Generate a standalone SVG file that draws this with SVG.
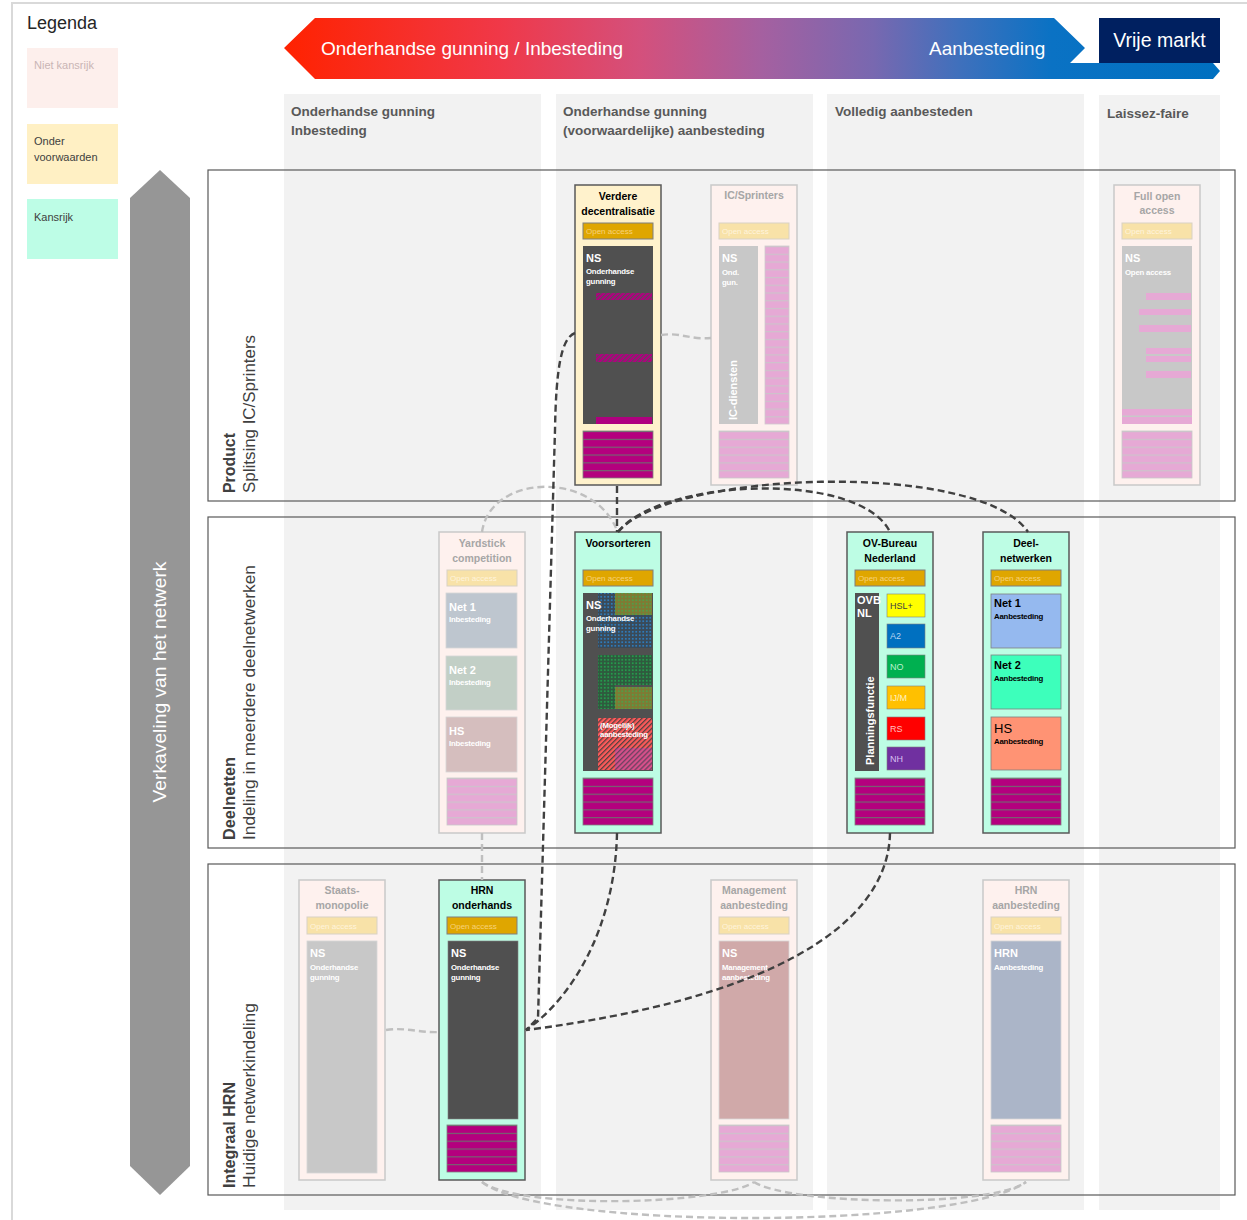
<svg xmlns="http://www.w3.org/2000/svg" width="1247" height="1220" viewBox="0 0 1247 1220">
<defs>
<linearGradient id="bannerGrad" gradientUnits="userSpaceOnUse" x1="284" y1="0" x2="1220" y2="0">
<stop offset="0" stop-color="#ff2200"/>
<stop offset="0.23" stop-color="#f03848"/>
<stop offset="0.38" stop-color="#d4507c"/>
<stop offset="0.51" stop-color="#a560a0"/>
<stop offset="0.63" stop-color="#7868b0"/>
<stop offset="0.72" stop-color="#4070bc"/>
<stop offset="0.82" stop-color="#0a72c4"/>
<stop offset="1" stop-color="#0070c0"/>
</linearGradient>
<pattern id="stM" patternUnits="objectBoundingBox" width="1" height="0.16667">
<rect width="100" height="20" fill="#b4007e"/>
<rect width="100" height="1.1" fill="#6f6f6f"/>
</pattern>
<pattern id="stP" patternUnits="objectBoundingBox" width="1" height="0.16667">
<rect width="100" height="20" fill="#e6a9d5"/>
<rect width="100" height="1.2" fill="#cdc3cb"/>
</pattern>
<pattern id="stP23" patternUnits="objectBoundingBox" width="1" height="0.04348">
<rect width="100" height="20" fill="#e6a9d5"/>
<rect width="100" height="1.2" fill="#cdc3cb"/>
</pattern>
<pattern id="hatchM" patternUnits="userSpaceOnUse" width="3.5" height="3.5" patternTransform="rotate(45)">
<rect width="3.5" height="3.5" fill="#b0007f"/>
<rect width="1.1" height="3.5" fill="#5a4a58"/>
</pattern>
<pattern id="hatchR" patternUnits="userSpaceOnUse" width="3.5" height="3.5" patternTransform="rotate(45)">
<rect width="3.5" height="3.5" fill="#ff5a5a"/>
<rect width="1.3" height="3.5" fill="#5a4040"/>
</pattern>
<pattern id="hatchP" patternUnits="userSpaceOnUse" width="3.5" height="3.5" patternTransform="rotate(45)">
<rect width="3.5" height="3.5" fill="#d8508a"/>
<rect width="1.3" height="3.5" fill="#6a4060"/>
</pattern>
<pattern id="dotB" patternUnits="userSpaceOnUse" width="3.5" height="3.5">
<rect width="3.5" height="3.5" fill="#3a4a58"/>
<circle cx="1.75" cy="1.75" r="0.9" fill="#2a8ad8"/>
</pattern>
<pattern id="dotG" patternUnits="userSpaceOnUse" width="3.5" height="3.5">
<rect width="3.5" height="3.5" fill="#2f5a3e"/>
<circle cx="1.75" cy="1.75" r="0.9" fill="#20b050"/>
</pattern>
<pattern id="dotO" patternUnits="userSpaceOnUse" width="3.5" height="3.5">
<rect width="3.5" height="3.5" fill="#7f7a34"/>
<circle cx="1.75" cy="1.75" r="0.8" fill="#3cae50"/>
</pattern>
<style>
.f{font-family:"Liberation Sans",Arial,sans-serif}
.col{fill:#f2f2f2}
.frame{fill:none;stroke:#595959;stroke-width:1.2}
.nk{fill:#fef1ee;stroke:#c9c9c9;stroke-width:1.5}
.ov{fill:#fff2cc;stroke:#595959;stroke-width:1.5}
.kr{fill:#bdfde4;stroke:#595959;stroke-width:1.5}
.oa{fill:#dfa600;stroke:#7f7f7f;stroke-width:1}
.oal{fill:#f8e2a8;stroke:#d8d2c4;stroke-width:1}
.bm{fill:url(#stM);stroke:#7f7f7f;stroke-width:0.8}
.bp{fill:url(#stP);stroke:#c9c9c9;stroke-width:0.8}
.ttl{font-family:"Liberation Sans",Arial,sans-serif;font-size:10.5px;font-weight:bold;text-anchor:middle;fill:#000}
.ttlg{font-family:"Liberation Sans",Arial,sans-serif;font-size:10.5px;font-weight:bold;text-anchor:middle;fill:#a6a6a6}
.oat{font-family:"Liberation Sans",Arial,sans-serif;font-size:8px;fill:#f7d27a}
.oatl{font-family:"Liberation Sans",Arial,sans-serif;font-size:8px;fill:#fff4dc}
.ns{font-family:"Liberation Sans",Arial,sans-serif;font-size:11px;font-weight:bold;fill:#fff}
.sub{font-family:"Liberation Sans",Arial,sans-serif;font-size:7.8px;font-weight:bold;fill:#fff;letter-spacing:-0.2px}
.hdr{font-family:"Liberation Sans",Arial,sans-serif;font-size:13.5px;font-weight:bold;fill:#595959}
.rowb{font-family:"Liberation Sans",Arial,sans-serif;font-size:16px;font-weight:bold;fill:#404040}
.rowr{font-family:"Liberation Sans",Arial,sans-serif;font-size:16px;fill:#404040}
.lg{font-family:"Liberation Sans",Arial,sans-serif;font-size:11px;fill:#404040}
.cl{font-family:"Liberation Sans",Arial,sans-serif;font-size:9px}
.dk{fill:none;stroke:#404040;stroke-width:2.4;stroke-dasharray:7 4}
.lt{fill:none;stroke:#bfbfbf;stroke-width:2.4;stroke-dasharray:7 4}
</style>
</defs>
<rect width="1247" height="1220" fill="#fff"/>
<path d="M12,1220 L12,3 L1247,3" fill="none" stroke="#d9d9d9" stroke-width="2"/>

<g id="legend">
<text class="f" x="27" y="29" font-size="18" fill="#262626">Legenda</text>
<rect x="27" y="48" width="91" height="60" fill="#fdefec"/>
<text class="lg" x="34" y="69" style="fill:#c9b5b5">Niet kansrijk</text>
<rect x="27" y="124" width="91" height="60" fill="#fff0c4"/>
<text class="lg" x="34" y="145">Onder</text>
<text class="lg" x="34" y="161">voorwaarden</text>
<rect x="27" y="199" width="91" height="60" fill="#bdfde6"/>
<text class="lg" x="34" y="221">Kansrijk</text>
</g>

<g id="banner">
<polygon points="284,48 315,18 1054,18 1085,48 1070,63 1213,63 1220,71 1213,79 315,79" fill="url(#bannerGrad)"/>
<text class="f" x="321" y="55" font-size="19" fill="#fff">Onderhandse gunning / Inbesteding</text>
<text class="f" x="929" y="55" font-size="19" fill="#fff">Aanbesteding</text>
<rect x="1099" y="18" width="121" height="45" fill="#002060"/>
<text class="f" x="1159.5" y="47" font-size="19.5" fill="#fff" text-anchor="middle">Vrije markt</text>
</g>

<g id="columns">
<rect class="col" x="284" y="94" width="257" height="1116"/>
<rect class="col" x="556" y="94" width="257" height="1116"/>
<rect class="col" x="827" y="94" width="257" height="1116"/>
<rect class="col" x="1099" y="95" width="121" height="1115"/>
<text class="hdr" x="291" y="116">Onderhandse gunning</text>
<text class="hdr" x="291" y="135">Inbesteding</text>
<text class="hdr" x="563" y="116">Onderhandse gunning</text>
<text class="hdr" x="563" y="135">(voorwaardelijke) aanbesteding</text>
<text class="hdr" x="835" y="116">Volledig aanbesteden</text>
<text class="hdr" x="1107" y="118">Laissez-faire</text>
</g>

<g id="axis">
<polygon points="160,170 190,198 190,1166 160,1195 130,1166 130,198" fill="#969696"/>
<text class="f" x="166" y="682" font-size="18" fill="#fff" text-anchor="middle" textLength="241" lengthAdjust="spacingAndGlyphs" transform="rotate(-90 166 682)">Verkaveling van het netwerk</text>
</g>

<g id="rows">
<rect class="frame" x="208" y="170" width="1027" height="331"/>
<rect class="frame" x="208" y="517" width="1027" height="331"/>
<rect class="frame" x="208" y="864" width="1027" height="331"/>
<text class="rowb" x="235" y="493" textLength="60" lengthAdjust="spacingAndGlyphs" transform="rotate(-90 235 493)">Product</text>
<text class="rowr" x="255" y="493" textLength="158" lengthAdjust="spacingAndGlyphs" transform="rotate(-90 255 493)">Splitsing IC/Sprinters</text>
<text class="rowb" x="235" y="840" textLength="83" lengthAdjust="spacingAndGlyphs" transform="rotate(-90 235 840)">Deelnetten</text>
<text class="rowr" x="255" y="840" textLength="275" lengthAdjust="spacingAndGlyphs" transform="rotate(-90 255 840)">Indeling in meerdere deelnetwerken</text>
<text class="rowb" x="235" y="1188" textLength="106" lengthAdjust="spacingAndGlyphs" transform="rotate(-90 235 1188)">Integraal HRN</text>
<text class="rowr" x="255" y="1188" textLength="185" lengthAdjust="spacingAndGlyphs" transform="rotate(-90 255 1188)">Huidige netwerkindeling</text>
</g>

<g id="node-verdere-decentralisatie" transform="translate(575,185)">
<rect class="ov" width="86" height="300"/>
<text class="ttl" x="43" y="15">Verdere</text>
<text class="ttl" x="43" y="30">decentralisatie</text>
<rect class="oa" x="8" y="38" width="70" height="16"/>
<text class="oat" x="11" y="49">Open access</text>
<rect x="8" y="61" width="70" height="178" fill="#505050"/>
<text class="ns" x="11" y="77">NS</text>
<text class="sub" x="11" y="89">Onderhandse</text>
<text class="sub" x="11" y="99">gunning</text>
<rect x="21" y="108" width="56" height="7" fill="url(#hatchM)"/>
<rect x="21" y="169" width="56" height="8" fill="url(#hatchM)"/>
<rect x="21" y="232" width="56" height="7" fill="#b0007f"/>
<rect class="bm" x="8" y="246" width="70" height="47"/>
</g>

<g id="node-ic-sprinters" transform="translate(711,185)">
<rect class="nk" width="86" height="300"/>
<text class="ttlg" x="43" y="14">IC/Sprinters</text>
<rect class="oal" x="8" y="38" width="70" height="16"/>
<text class="oatl" x="11" y="49">Open access</text>
<rect x="8" y="61" width="39" height="178" fill="#c8c8c8"/>
<text class="ns" x="11" y="77">NS</text>
<text class="sub" x="11" y="90">Ond.</text>
<text class="sub" x="11" y="100">gun.</text>
<text class="ns" x="26" y="235" transform="rotate(-90 26 235)">IC-diensten</text>
<rect x="54" y="61" width="24" height="178" fill="url(#stP23)" stroke="#d0c8ce" stroke-width="0.8"/>
<rect class="bp" x="8" y="246" width="70" height="47"/>
</g>

<g id="node-full-open-access" transform="translate(1114,185)">
<rect class="nk" width="86" height="300"/>
<text class="ttlg" x="43" y="15">Full open</text>
<text class="ttlg" x="43" y="29">access</text>
<rect class="oal" x="8" y="38" width="70" height="16"/>
<text class="oatl" x="11" y="49">Open access</text>
<rect x="8" y="61" width="70" height="178" fill="#c8c8c8"/>
<text class="ns" x="11" y="77">NS</text>
<text class="sub" x="11" y="90">Open access</text>
<rect x="32" y="108" width="45" height="7" fill="#e6a9d5"/>
<rect x="25" y="124" width="52" height="6" fill="#e6a9d5"/>
<rect x="25" y="140" width="52" height="7" fill="#e6a9d5"/>
<rect x="32" y="163" width="45" height="6" fill="#e6a9d5"/>
<rect x="32" y="171" width="45" height="6" fill="#e6a9d5"/>
<rect x="32" y="186" width="45" height="7" fill="#e6a9d5"/>
<rect x="8" y="224" width="70" height="6.5" fill="#e6a9d5"/>
<rect x="8" y="232" width="70" height="7" fill="#e6a9d5"/>
<rect class="bp" x="8" y="246" width="70" height="47"/>
</g>

<g id="node-yardstick-competition" transform="translate(439,532)">
<rect class="nk" width="86" height="301"/>
<text class="ttlg" x="43" y="15">Yardstick</text>
<text class="ttlg" x="43" y="30">competition</text>
<rect class="oal" x="8" y="38" width="70" height="16"/>
<text class="oatl" x="11" y="49">Open access</text>
<rect x="7" y="61" width="71" height="55" fill="#bec6cf" stroke="#d6d6d6" stroke-width="0.8"/>
<text class="ns" x="10" y="79" font-size="12">Net 1</text>
<text class="sub" x="10" y="90">Inbesteding</text>
<rect x="7" y="124" width="71" height="54" fill="#c2cfc6" stroke="#d6d6d6" stroke-width="0.8"/>
<text class="ns" x="10" y="142" font-size="12">Net 2</text>
<text class="sub" x="10" y="153">Inbesteding</text>
<rect x="7" y="185" width="71" height="55" fill="#d5bebe" stroke="#d6d6d6" stroke-width="0.8"/>
<text class="ns" x="10" y="203" font-size="12">HS</text>
<text class="sub" x="10" y="214">Inbesteding</text>
<rect class="bp" x="8" y="246" width="70" height="47"/>
</g>

<g id="node-voorsorteren" transform="translate(575,532)">
<rect class="kr" width="86" height="301"/>
<text class="ttl" x="43" y="15">Voorsorteren</text>
<rect class="oa" x="8" y="38" width="70" height="16"/>
<text class="oat" x="11" y="49">Open access</text>
<rect x="8" y="61" width="70" height="178" fill="#505050"/>
<rect x="23" y="61" width="54" height="55" fill="url(#dotB)"/>
<rect x="40" y="61" width="37" height="22" fill="url(#dotO)"/>
<rect x="23" y="123" width="54" height="30" fill="url(#dotG)"/>
<rect x="23" y="153" width="17" height="24" fill="url(#dotG)"/>
<rect x="40" y="155" width="37" height="22" fill="url(#dotO)"/>
<rect x="23" y="186" width="54" height="52" fill="url(#hatchR)"/>
<rect x="40" y="216" width="37" height="22" fill="url(#hatchP)"/>
<text class="ns" x="11" y="77">NS</text>
<text class="sub" x="11" y="89">Onderhandse</text>
<text class="sub" x="11" y="99">gunning</text>
<text class="sub" x="25" y="196" font-size="7">(Mogelijk)</text>
<text class="sub" x="25" y="205" font-size="7">aanbesteding</text>
<rect class="bm" x="8" y="246" width="70" height="47"/>
</g>

<g id="node-ov-bureau-nederland" transform="translate(847,532)">
<rect class="kr" width="86" height="301"/>
<text class="ttl" x="43" y="15">OV-Bureau</text>
<text class="ttl" x="43" y="30">Nederland</text>
<rect class="oa" x="8" y="38" width="70" height="16"/>
<text class="oat" x="11" y="49">Open access</text>
<rect x="8" y="61" width="24" height="178" fill="#505050"/>
<text class="ns" x="10" y="72" font-size="8.5">OVB</text>
<text class="ns" x="10" y="85" font-size="8.5">NL</text>
<text class="ns" x="27" y="233" transform="rotate(-90 27 233)">Planningsfunctie</text>
<rect x="40" y="62" width="38" height="23" fill="#ffff00" stroke="#7f7f7f" stroke-width="0.6"/>
<text class="cl" x="43" y="77" fill="#404040">HSL+</text>
<rect x="40" y="92" width="38" height="24" fill="#0070c0" stroke="#7f7f7f" stroke-width="0.6"/>
<text class="cl" x="43" y="107" fill="#b8d4f0">A2</text>
<rect x="40" y="123" width="38" height="23" fill="#00b050" stroke="#7f7f7f" stroke-width="0.6"/>
<text class="cl" x="43" y="138" fill="#b8f0cc">NO</text>
<rect x="40" y="154" width="38" height="23" fill="#ffc000" stroke="#7f7f7f" stroke-width="0.6"/>
<text class="cl" x="43" y="169" fill="#fff0c0">IJ/M</text>
<rect x="40" y="185" width="38" height="23" fill="#ff0000" stroke="#7f7f7f" stroke-width="0.6"/>
<text class="cl" x="43" y="200" fill="#ffc0c0">RS</text>
<rect x="40" y="215" width="38" height="23" fill="#7030a0" stroke="#7f7f7f" stroke-width="0.6"/>
<text class="cl" x="43" y="230" fill="#d8c0f0">NH</text>
<rect class="bm" x="8" y="246" width="70" height="47"/>
</g>

<g id="node-deel-netwerken" transform="translate(983,532)">
<rect class="kr" width="86" height="301"/>
<text class="ttl" x="43" y="15">Deel-</text>
<text class="ttl" x="43" y="30">netwerken</text>
<rect class="oa" x="8" y="38" width="70" height="16"/>
<text class="oat" x="11" y="49">Open access</text>
<rect x="8" y="62" width="70" height="54" fill="#95b9ef" stroke="#7f7f7f" stroke-width="0.8"/>
<text class="ns" x="11" y="75" style="fill:#000">Net 1</text>
<text class="sub" x="11" y="87" style="fill:#000">Aanbesteding</text>
<rect x="8" y="123" width="70" height="54" fill="#3dffbb" stroke="#7f7f7f" stroke-width="0.8"/>
<text class="ns" x="11" y="137" style="fill:#000">Net 2</text>
<text class="sub" x="11" y="149" style="fill:#000">Aanbesteding</text>
<rect x="8" y="185" width="70" height="53" fill="#ff9374" stroke="#7f7f7f" stroke-width="0.8"/>
<text class="f" x="11" y="201" font-size="13" fill="#000">HS</text>
<text class="sub" x="11" y="212" style="fill:#000">Aanbesteding</text>
<rect class="bm" x="8" y="246" width="70" height="47"/>
</g>

<g id="node-staatsmonopolie" transform="translate(299,880)">
<rect class="nk" width="86" height="300"/>
<text class="ttlg" x="43" y="14">Staats-</text>
<text class="ttlg" x="43" y="29">monopolie</text>
<rect class="oal" x="8" y="37" width="70" height="17"/>
<text class="oatl" x="11" y="49">Open access</text>
<rect x="8" y="61" width="70" height="232" fill="#c8c8c8" stroke="#d6d6d6" stroke-width="0.8"/>
<text class="ns" x="11" y="77">NS</text>
<text class="sub" x="11" y="90">Onderhandse</text>
<text class="sub" x="11" y="100">gunning</text>
</g>

<g id="node-hrn-onderhands" transform="translate(439,880)">
<rect class="kr" width="86" height="300"/>
<text class="ttl" x="43" y="14">HRN</text>
<text class="ttl" x="43" y="29">onderhands</text>
<rect class="oa" x="8" y="37" width="70" height="17"/>
<text class="oat" x="11" y="49">Open access</text>
<rect x="9" y="61" width="70" height="178" fill="#505050" stroke="#7f7f7f" stroke-width="0.6"/>
<text class="ns" x="12" y="77">NS</text>
<text class="sub" x="12" y="90">Onderhandse</text>
<text class="sub" x="12" y="100">gunning</text>
<rect class="bm" x="8" y="245" width="70" height="47"/>
</g>

<g id="node-management-aanbesteding" transform="translate(711,880)">
<rect class="nk" width="86" height="300"/>
<text class="ttlg" x="43" y="14">Management</text>
<text class="ttlg" x="43" y="29">aanbesteding</text>
<rect class="oal" x="8" y="37" width="70" height="17"/>
<text class="oatl" x="11" y="49">Open access</text>
<rect x="8" y="61" width="70" height="178" fill="#d0a9a9" stroke="#d6d6d6" stroke-width="0.8"/>
<text class="ns" x="11" y="77">NS</text>
<text class="sub" x="11" y="90">Management</text>
<text class="sub" x="11" y="100">aanbesteding</text>
<rect class="bp" x="8" y="245" width="70" height="47"/>
</g>

<g id="node-hrn-aanbesteding" transform="translate(983,880)">
<rect class="nk" width="86" height="300"/>
<text class="ttlg" x="43" y="14">HRN</text>
<text class="ttlg" x="43" y="29">aanbesteding</text>
<rect class="oal" x="8" y="37" width="70" height="17"/>
<text class="oatl" x="11" y="49">Open access</text>
<rect x="8" y="61" width="70" height="178" fill="#abb5c8" stroke="#d6d6d6" stroke-width="0.8"/>
<text class="ns" x="11" y="77">HRN</text>
<text class="sub" x="11" y="90">Aanbesteding</text>
<rect class="bp" x="8" y="245" width="70" height="47"/>
</g>

<g id="connectors">
<path class="lt" d="M661,335 C680,332 690,340 711,338"/>
<path class="lt" d="M482,532 C490,475 590,470 616,528"/>
<path class="lt" d="M482,833 L482,880"/>
<path class="lt" d="M386,1030 C405,1027 420,1033 439,1032"/>
<path class="lt" d="M482,1182 C520,1210 720,1205 754,1182"/>
<path class="lt" d="M754,1182 C790,1205 990,1208 1026,1182"/>
<path class="lt" d="M482,1182 C540,1230 960,1230 1026,1182"/>
<path class="dk" d="M617,486 L617,532"/>
<path class="dk" d="M575,333 C561,338 556,370 555,430 L538,1018 L526,1030"/>
<path class="dk" d="M617,833 C615,930 570,1000 526,1030"/>
<path class="dk" d="M890,833 C888,930 760,1000 526,1030"/>
<path class="dk" d="M618,532 C660,478 860,470 890,532"/>
<path class="dk" d="M618,532 C670,470 980,460 1028,532"/>
</g>
</svg>
